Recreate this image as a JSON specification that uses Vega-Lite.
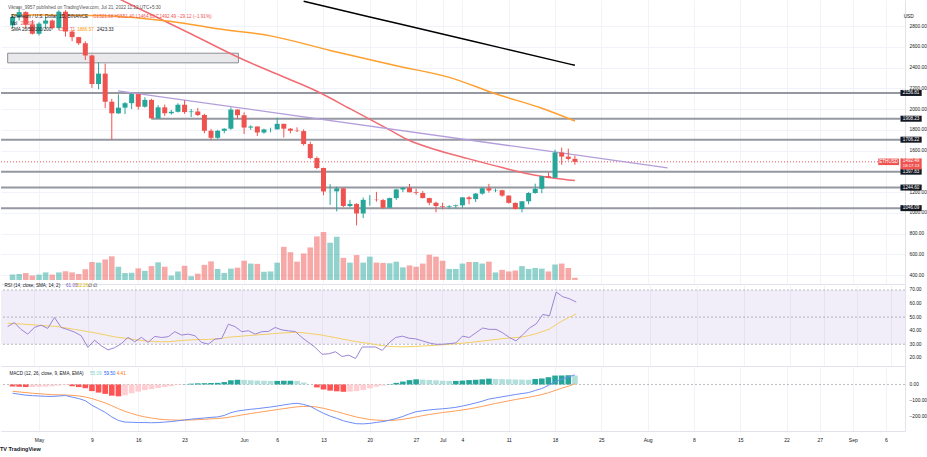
{
"$schema": "https://vega.github.io/schema/vega-lite/v6.json",
"padding": 0,
"background": "#ffffff",
"spacing": 0,
"bounds": "flush",
"config": {"font": "Liberation Sans", "view": {"stroke": null},
"axis": {"labelOverlap": false, "tickCount": 60},
"axisX": {"labelOverlap": false, "tickCount": 60},
"axisY": {"labelOverlap": false, "tickCount": 60}},
"title": {"text": "TV TradingView", "orient": "bottom", "anchor": "start", "fontSize": 5.5, "fontWeight": "bold", "color": "#131722", "offset": 5},
"datasets": {
"ohlc": [
{"date":"2022-04-27","open":2808,"high":2916,"low":2784,"close":2889,"volume":17,"rsi":43,"rsiSma":45.5,"macd":-54,"signal":-42,"hist":-12},
{"date":"2022-04-28","open":2889,"high":2984,"low":2855,"close":2936,"volume":19,"rsi":46,"rsiSma":45.2,"macd":-60,"signal":-46,"hist":-14},
{"date":"2022-04-29","open":2936,"high":2944,"low":2775,"close":2816,"volume":22,"rsi":41,"rsiSma":45,"macd":-66,"signal":-50,"hist":-16},
{"date":"2022-04-30","open":2816,"high":2860,"low":2720,"close":2727,"volume":14,"rsi":37.5,"rsiSma":44.6,"macd":-69,"signal":-54,"hist":-15},
{"date":"2022-05-01","open":2727,"high":2840,"low":2711,"close":2825,"volume":17,"rsi":42.4,"rsiSma":44.3,"macd":-71,"signal":-57,"hist":-14},
{"date":"2022-05-02","open":2825,"high":2892,"low":2775,"close":2855,"volume":24,"rsi":44.1,"rsiSma":43.9,"macd":-73,"signal":-60,"hist":-13},
{"date":"2022-05-03","open":2855,"high":2865,"low":2768,"close":2782,"volume":17,"rsi":41.7,"rsiSma":43.5,"macd":-74,"signal":-63,"hist":-11},
{"date":"2022-05-04","open":2782,"high":2955,"low":2765,"close":2940,"volume":24,"rsi":49.8,"rsiSma":43.3,"macd":-71,"signal":-64,"hist":-7},
{"date":"2022-05-05","open":2940,"high":2955,"low":2700,"close":2748,"volume":28,"rsi":42.4,"rsiSma":42.6,"macd":-68,"signal":-65,"hist":-3},
{"date":"2022-05-06","open":2748,"high":2763,"low":2655,"close":2695,"volume":24,"rsi":40.8,"rsiSma":41.8,"macd":-78,"signal":-67,"hist":-11},
{"date":"2022-05-07","open":2695,"high":2698,"low":2620,"close":2636,"volume":19,"rsi":39,"rsiSma":41,"macd":-87,"signal":-71,"hist":-16},
{"date":"2022-05-08","open":2636,"high":2655,"low":2475,"close":2518,"volume":34,"rsi":36.3,"rsiSma":40.2,"macd":-100,"signal":-77,"hist":-23},
{"date":"2022-05-09","open":2518,"high":2527,"low":2206,"close":2243,"volume":57,"rsi":27.7,"rsiSma":39.3,"macd":-128,"signal":-87,"hist":-41},
{"date":"2022-05-10","open":2243,"high":2453,"low":2192,"close":2343,"volume":55,"rsi":33,"rsiSma":38.5,"macd":-150,"signal":-100,"hist":-50},
{"date":"2022-05-11","open":2343,"high":2439,"low":2010,"close":2072,"volume":65,"rsi":28.9,"rsiSma":37.5,"macd":-172,"signal":-114,"hist":-58},
{"date":"2022-05-12","open":2072,"high":2100,"low":1704,"close":1960,"volume":75,"rsi":25.9,"rsiSma":36.5,"macd":-200,"signal":-131,"hist":-69},
{"date":"2022-05-13","open":1960,"high":2143,"low":1955,"close":2015,"volume":42,"rsi":27.5,"rsiSma":35.5,"macd":-222,"signal":-149,"hist":-73},
{"date":"2022-05-14","open":2015,"high":2068,"low":1953,"close":2058,"volume":22,"rsi":30.5,"rsiSma":34.8,"macd":-232,"signal":-166,"hist":-66},
{"date":"2022-05-15","open":2058,"high":2151,"low":2002,"close":2146,"volume":23,"rsi":35.1,"rsiSma":34.2,"macd":-233,"signal":-179,"hist":-54},
{"date":"2022-05-16","open":2146,"high":2146,"low":1996,"close":2024,"volume":37,"rsi":31.9,"rsiSma":33.5,"macd":-235,"signal":-191,"hist":-44},
{"date":"2022-05-17","open":2024,"high":2114,"low":2015,"close":2090,"volume":29,"rsi":35.1,"rsiSma":32.8,"macd":-235,"signal":-200,"hist":-35},
{"date":"2022-05-18","open":2090,"high":2100,"low":1908,"close":1912,"volume":44,"rsi":31.4,"rsiSma":32.3,"macd":-236,"signal":-207,"hist":-29},
{"date":"2022-05-19","open":1912,"high":2040,"low":1911,"close":2018,"volume":56,"rsi":35.8,"rsiSma":32,"macd":-235,"signal":-213,"hist":-22},
{"date":"2022-05-20","open":2018,"high":2045,"low":1935,"close":1961,"volume":42,"rsi":35,"rsiSma":31.9,"macd":-232,"signal":-217,"hist":-15},
{"date":"2022-05-21","open":1961,"high":1993,"low":1948,"close":1975,"volume":14,"rsi":35.6,"rsiSma":31.9,"macd":-229,"signal":-219,"hist":-10},
{"date":"2022-05-22","open":1975,"high":2057,"low":1968,"close":2043,"volume":27,"rsi":39.3,"rsiSma":32.3,"macd":-224,"signal":-220,"hist":-4},
{"date":"2022-05-23","open":2043,"high":2087,"low":1955,"close":1972,"volume":45,"rsi":36.8,"rsiSma":32.8,"macd":-219,"signal":-220,"hist":1},
{"date":"2022-05-24","open":1972,"high":2002,"low":1925,"close":1978,"volume":12,"rsi":37.5,"rsiSma":33.1,"macd":-214,"signal":-219,"hist":5},
{"date":"2022-05-25","open":1978,"high":2012,"low":1934,"close":1944,"volume":20,"rsi":36.3,"rsiSma":33.4,"macd":-210,"signal":-217,"hist":7},
{"date":"2022-05-26","open":1944,"high":1956,"low":1768,"close":1792,"volume":48,"rsi":31.4,"rsiSma":33.5,"macd":-207,"signal":-215,"hist":8},
{"date":"2022-05-27","open":1792,"high":1810,"low":1702,"close":1724,"volume":59,"rsi":30.1,"rsiSma":33.6,"macd":-203,"signal":-212,"hist":9},
{"date":"2022-05-28","open":1724,"high":1801,"low":1715,"close":1792,"volume":35,"rsi":33.8,"rsiSma":34,"macd":-200,"signal":-210,"hist":10},
{"date":"2022-05-29","open":1792,"high":1816,"low":1768,"close":1812,"volume":22,"rsi":34.3,"rsiSma":34.3,"macd":-191,"signal":-206,"hist":15},
{"date":"2022-05-30","open":1812,"high":2017,"low":1801,"close":1996,"volume":36,"rsi":44.8,"rsiSma":35.2,"macd":-174,"signal":-200,"hist":26},
{"date":"2022-05-31","open":1996,"high":2000,"low":1906,"close":1942,"volume":39,"rsi":43,"rsiSma":35.6,"macd":-164,"signal":-193,"hist":29},
{"date":"2022-06-01","open":1942,"high":1969,"low":1761,"close":1823,"volume":61,"rsi":39.3,"rsiSma":36,"macd":-158,"signal":-186,"hist":28},
{"date":"2022-06-02","open":1823,"high":1845,"low":1801,"close":1833,"volume":52,"rsi":40,"rsiSma":36.4,"macd":-153,"signal":-179,"hist":26},
{"date":"2022-06-03","open":1833,"high":1834,"low":1742,"close":1775,"volume":51,"rsi":37.5,"rsiSma":36.8,"macd":-149,"signal":-173,"hist":24},
{"date":"2022-06-04","open":1775,"high":1812,"low":1764,"close":1805,"volume":26,"rsi":39.3,"rsiSma":37.2,"macd":-144,"signal":-167,"hist":23},
{"date":"2022-06-05","open":1805,"high":1821,"low":1777,"close":1806,"volume":27,"rsi":39.5,"rsiSma":37.5,"macd":-139,"signal":-161,"hist":22},
{"date":"2022-06-06","open":1806,"high":1917,"low":1804,"close":1859,"volume":55,"rsi":42.4,"rsiSma":38,"macd":-133,"signal":-155,"hist":22},
{"date":"2022-06-07","open":1859,"high":1860,"low":1728,"close":1812,"volume":105,"rsi":40.6,"rsiSma":38.3,"macd":-126,"signal":-149,"hist":23},
{"date":"2022-06-08","open":1812,"high":1818,"low":1768,"close":1793,"volume":88,"rsi":39.9,"rsiSma":38.6,"macd":-120,"signal":-143,"hist":23},
{"date":"2022-06-09","open":1793,"high":1825,"low":1780,"close":1789,"volume":58,"rsi":39.4,"rsiSma":38.8,"macd":-116,"signal":-138,"hist":22},
{"date":"2022-06-10","open":1789,"high":1806,"low":1650,"close":1664,"volume":84,"rsi":35,"rsiSma":38.6,"macd":-123,"signal":-135,"hist":12},
{"date":"2022-06-11","open":1664,"high":1686,"low":1517,"close":1529,"volume":103,"rsi":31.3,"rsiSma":38,"macd":-135,"signal":-135,"hist":0},
{"date":"2022-06-12","open":1529,"high":1544,"low":1422,"close":1433,"volume":138,"rsi":27.6,"rsiSma":37.4,"macd":-157,"signal":-139,"hist":-18},
{"date":"2022-06-13","open":1433,"high":1437,"low":1170,"close":1207,"volume":152,"rsi":22.7,"rsiSma":36.8,"macd":-178,"signal":-147,"hist":-31},
{"date":"2022-06-14","open":1207,"high":1277,"low":1077,"close":1208,"volume":118,"rsi":23,"rsiSma":35.8,"macd":-195,"signal":-157,"hist":-38},
{"date":"2022-06-15","open":1208,"high":1253,"low":1015,"close":1237,"volume":137,"rsi":24.5,"rsiSma":34.9,"macd":-209,"signal":-167,"hist":-42},
{"date":"2022-06-16","open":1237,"high":1239,"low":1056,"close":1067,"volume":70,"rsi":21,"rsiSma":33.9,"macd":-224,"signal":-179,"hist":-45},
{"date":"2022-06-17","open":1067,"high":1126,"low":1055,"close":1087,"volume":55,"rsi":22,"rsiSma":33,"macd":-234,"signal":-190,"hist":-44},
{"date":"2022-06-18","open":1087,"high":1094,"low":880,"close":995,"volume":79,"rsi":19.5,"rsiSma":32,"macd":-242,"signal":-201,"hist":-41},
{"date":"2022-06-19","open":995,"high":1148,"low":950,"close":1126,"volume":55,"rsi":28,"rsiSma":31.3,"macd":-243,"signal":-209,"hist":-34},
{"date":"2022-06-20","open":1126,"high":1172,"low":1070,"close":1127,"volume":74,"rsi":28,"rsiSma":30.6,"macd":-240,"signal":-216,"hist":-24},
{"date":"2022-06-21","open":1127,"high":1203,"low":1108,"close":1124,"volume":55,"rsi":28,"rsiSma":29.8,"macd":-234,"signal":-220,"hist":-14},
{"date":"2022-06-22","open":1124,"high":1135,"low":1040,"close":1050,"volume":54,"rsi":25.5,"rsiSma":29,"macd":-229,"signal":-222,"hist":-7},
{"date":"2022-06-23","open":1050,"high":1147,"low":1047,"close":1143,"volume":53,"rsi":31,"rsiSma":28.5,"macd":-220,"signal":-222,"hist":2},
{"date":"2022-06-24","open":1143,"high":1233,"low":1125,"close":1226,"volume":58,"rsi":35,"rsiSma":28.2,"macd":-210,"signal":-220,"hist":10},
{"date":"2022-06-25","open":1226,"high":1249,"low":1200,"close":1243,"volume":40,"rsi":36,"rsiSma":28.1,"macd":-197,"signal":-215,"hist":18},
{"date":"2022-06-26","open":1243,"high":1279,"low":1198,"close":1199,"volume":46,"rsi":34.5,"rsiSma":28.3,"macd":-181,"signal":-208,"hist":27},
{"date":"2022-06-27","open":1199,"high":1234,"low":1175,"close":1192,"volume":42,"rsi":34,"rsiSma":28.5,"macd":-168,"signal":-200,"hist":32},
{"date":"2022-06-28","open":1192,"high":1212,"low":1140,"close":1143,"volume":52,"rsi":32.5,"rsiSma":28.7,"macd":-162,"signal":-192,"hist":30},
{"date":"2022-06-29","open":1143,"high":1147,"low":1075,"close":1098,"volume":80,"rsi":31,"rsiSma":29,"macd":-157,"signal":-185,"hist":28},
{"date":"2022-06-30","open":1098,"high":1108,"low":1006,"close":1067,"volume":74,"rsi":30,"rsiSma":29.3,"macd":-153,"signal":-179,"hist":26},
{"date":"2022-07-01","open":1067,"high":1098,"low":1035,"close":1060,"volume":61,"rsi":30,"rsiSma":29.6,"macd":-150,"signal":-173,"hist":23},
{"date":"2022-07-02","open":1060,"high":1075,"low":1040,"close":1066,"volume":35,"rsi":30.5,"rsiSma":30,"macd":-146,"signal":-168,"hist":22},
{"date":"2022-07-03","open":1066,"high":1080,"low":1045,"close":1073,"volume":35,"rsi":31,"rsiSma":30.4,"macd":-141,"signal":-163,"hist":22},
{"date":"2022-07-04","open":1073,"high":1152,"low":1048,"close":1150,"volume":52,"rsi":36,"rsiSma":30.8,"macd":-133,"signal":-157,"hist":24},
{"date":"2022-07-05","open":1150,"high":1162,"low":1083,"close":1133,"volume":57,"rsi":35,"rsiSma":31.3,"macd":-124,"signal":-151,"hist":27},
{"date":"2022-07-06","open":1133,"high":1192,"low":1105,"close":1186,"volume":57,"rsi":38.5,"rsiSma":31.8,"macd":-114,"signal":-143,"hist":29},
{"date":"2022-07-07","open":1186,"high":1244,"low":1176,"close":1238,"volume":52,"rsi":42,"rsiSma":32.4,"macd":-103,"signal":-135,"hist":32},
{"date":"2022-07-08","open":1238,"high":1280,"low":1195,"close":1216,"volume":58,"rsi":41,"rsiSma":33,"macd":-90,"signal":-126,"hist":36},
{"date":"2022-07-09","open":1216,"high":1235,"low":1200,"close":1219,"volume":24,"rsi":41,"rsiSma":33.6,"macd":-83,"signal":-117,"hist":34},
{"date":"2022-07-10","open":1219,"high":1223,"low":1155,"close":1167,"volume":32,"rsi":38.5,"rsiSma":34.2,"macd":-76,"signal":-109,"hist":33},
{"date":"2022-07-11","open":1167,"high":1170,"low":1090,"close":1097,"volume":27,"rsi":35,"rsiSma":34.6,"macd":-69,"signal":-101,"hist":32},
{"date":"2022-07-12","open":1097,"high":1100,"low":1033,"close":1038,"volume":30,"rsi":32.5,"rsiSma":35,"macd":-62,"signal":-93,"hist":31},
{"date":"2022-07-13","open":1038,"high":1115,"low":1006,"close":1112,"volume":44,"rsi":37,"rsiSma":35.5,"macd":-56,"signal":-86,"hist":30},
{"date":"2022-07-14","open":1112,"high":1200,"low":1083,"close":1192,"volume":35,"rsi":42,"rsiSma":36.5,"macd":-50,"signal":-79,"hist":29},
{"date":"2022-07-15","open":1192,"high":1282,"low":1185,"close":1233,"volume":38,"rsi":45,"rsiSma":37.8,"macd":-37,"signal":-71,"hist":34},
{"date":"2022-07-16","open":1233,"high":1356,"low":1190,"close":1354,"volume":36,"rsi":52,"rsiSma":39.5,"macd":-25,"signal":-62,"hist":37},
{"date":"2022-07-17","open":1354,"high":1390,"low":1336,"close":1339,"volume":27,"rsi":51,"rsiSma":41.2,"macd":-6,"signal":-51,"hist":45},
{"date":"2022-07-18","open":1339,"high":1610,"low":1337,"close":1582,"volume":49,"rsi":68.5,"rsiSma":44.5,"macd":18,"signal":-37,"hist":55},
{"date":"2022-07-19","open":1582,"high":1630,"low":1465,"close":1543,"volume":52,"rsi":65,"rsiSma":47.5,"macd":32,"signal":-23,"hist":55.5},
{"date":"2022-07-20","open":1543,"high":1620,"low":1505,"close":1521,"volume":38,"rsi":63.5,"rsiSma":50,"macd":46,"signal":-11,"hist":57},
{"date":"2022-07-21","open":1521.68,"high":1551.4,"low":1464.63,"close":1492.49,"volume":7,"rsi":61.09,"rsiSma":52.26,"macd":59.5,"signal":4.41,"hist":55.09}
],
"sma": [
{"date":"2022-05-05","series":"SMA 50","value":3316},
{"date":"2022-05-15","series":"SMA 50","value":3005},
{"date":"2022-05-24","series":"SMA 50","value":2725},
{"date":"2022-06-01","series":"SMA 50","value":2474},
{"date":"2022-06-07","series":"SMA 50","value":2311},
{"date":"2022-06-12","series":"SMA 50","value":2173},
{"date":"2022-06-17","series":"SMA 50","value":2005},
{"date":"2022-06-23","series":"SMA 50","value":1800},
{"date":"2022-06-26","series":"SMA 50","value":1698},
{"date":"2022-06-30","series":"SMA 50","value":1609},
{"date":"2022-07-05","series":"SMA 50","value":1521},
{"date":"2022-07-10","series":"SMA 50","value":1437},
{"date":"2022-07-15","series":"SMA 50","value":1363},
{"date":"2022-07-18","series":"SMA 50","value":1335},
{"date":"2022-07-21","series":"SMA 50","value":1312},
{"date":"2022-04-27","series":"SMA 100","value":2911},
{"date":"2022-05-11","series":"SMA 100","value":2902},
{"date":"2022-05-16","series":"SMA 100","value":2880},
{"date":"2022-05-21","series":"SMA 100","value":2846},
{"date":"2022-05-28","series":"SMA 100","value":2775},
{"date":"2022-06-05","series":"SMA 100","value":2707},
{"date":"2022-06-14","series":"SMA 100","value":2567},
{"date":"2022-06-24","series":"SMA 100","value":2419},
{"date":"2022-07-02","series":"SMA 100","value":2307},
{"date":"2022-07-09","series":"SMA 100","value":2149},
{"date":"2022-07-16","series":"SMA 100","value":2009},
{"date":"2022-07-21","series":"SMA 100","value":1886.57},
{"date":"2022-06-10","series":"SMA 200","value":3041},
{"date":"2022-06-20","series":"SMA 200","value":2890},
{"date":"2022-06-30","series":"SMA 200","value":2740},
{"date":"2022-07-10","series":"SMA 200","value":2589},
{"date":"2022-07-21","series":"SMA 200","value":2423.33}
],
"levels": [{"level":2156.81},{"level":1908.23},{"level":1706.22},{"level":1397.83},{"level":1244.60},{"level":1046.09}],
"rsiLines": [{"lvl":70},{"lvl":50},{"lvl":30}]
},
"vconcat": [
{
"width": 904, "height": 284,
"resolve": {"scale": {"y": "independent"}},
"layer": [
{
"data": {"name": "ohlc"},
"mark": {"type": "bar", "size": 5.6, "opacity": 0.5},
"encoding": {
"x": {"field": "date", "type": "temporal", "scale": {"type":"utc","domain":[{"year":2022,"month":4,"date":26,"hours":0,"minutes":14,"utc":true},{"year":2022,"month":9,"date":8,"hours":3,"minutes":20,"utc":true}]},
"axis": {"values": [{"year":2022,"month":5,"date":1,"utc":true},{"year":2022,"month":5,"date":9,"utc":true},{"year":2022,"month":5,"date":16,"utc":true},{"year":2022,"month":5,"date":23,"utc":true},{"year":2022,"month":6,"date":1,"utc":true},{"year":2022,"month":6,"date":6,"utc":true},{"year":2022,"month":6,"date":13,"utc":true},{"year":2022,"month":6,"date":20,"utc":true},{"year":2022,"month":6,"date":27,"utc":true},{"year":2022,"month":7,"date":1,"utc":true},{"year":2022,"month":7,"date":4,"utc":true},{"year":2022,"month":7,"date":11,"utc":true},{"year":2022,"month":7,"date":18,"utc":true},{"year":2022,"month":7,"date":25,"utc":true},{"year":2022,"month":8,"date":1,"utc":true},{"year":2022,"month":8,"date":8,"utc":true},{"year":2022,"month":8,"date":15,"utc":true},{"year":2022,"month":8,"date":22,"utc":true},{"year":2022,"month":8,"date":27,"utc":true},{"year":2022,"month":9,"date":1,"utc":true},{"year":2022,"month":9,"date":6,"utc":true}], "tickCount": 60, "labels": false, "ticks": false, "domain": true, "domainColor": "#e0e3eb", "grid": true, "gridColor": "#f0f3fa", "title": null}},
"y": {"field": "volume", "type": "quantitative", "scale": {"domain": [-12.7, 886.7], "nice": false, "zero": false}, "axis": null},
"y2": {"datum": 0},
"color": {"condition": {"test": "datum.close >= datum.open", "value": "#26a69a"}, "value": "#ef5350"}
}
},
{
"layer": [
{
"data": {"name": "ohlc"},
"mark": {"type": "rule", "strokeWidth": 1, "opacity": 0},
"encoding": {
"x": {"field": "date", "type": "temporal"},
"y": {"field": "low", "type": "quantitative", "scale": {"domain": [362.9, 3004.7], "nice": false, "zero": false},
"axis": {"orient": "right", "values": [400,600,800,1000,1200,1600,1800,2000,2200,2400,2600,2800], "tickCount": 60, "format": ".2f", "title": null, "grid": true, "gridColor": "#f0f3fa", "ticks": false, "domain": true, "domainColor": "#e0e3eb", "labelFontSize": 4.8, "labelColor": "#131722", "labelPadding": 4, "labelAlign": "left", "labelBaseline": "middle", "labelOverlap": false}},
"y2": {"field": "high"}
}
},
{
"data": {"values": [{}]},
"mark": {"type": "rect", "fill": "#e9e9ec", "stroke": "#8a8d96", "strokeWidth": 1},
"encoding": {
"x": {"datum": {"year":2022,"month":4,"date":26,"hours":6,"minutes":20,"utc":true}, "type": "temporal"},
"x2": {"datum": {"year":2022,"month":5,"date":31,"hours":3,"minutes":20,"utc":true}},
"y": {"datum": 2540, "type": "quantitative"},
"y2": {"datum": 2447}
}
},
{
"data": {"name": "levels"},
"transform": [{"filter": "datum.level != 1908.23"}],
"mark": {"type": "rule", "color": "#9598a1", "strokeWidth": 2},
"encoding": {"y": {"field": "level", "type": "quantitative"}}
},
{
"data": {"values": [{}]},
"mark": {"type": "rule", "color": "#9598a1", "strokeWidth": 2},
"encoding": {
"x": {"datum": {"year":2022,"month":5,"date":17,"hours":23,"minutes":30,"utc":true}, "type": "temporal"},
"x2": {"datum": {"year":2022,"month":9,"date":8,"hours":3,"minutes":20,"utc":true}},
"y": {"datum": 1908.23, "type": "quantitative"}
}
},
{
"data": {"values": [{}]},
"mark": {"type": "rule", "color": "#ef5350", "strokeWidth": 1, "strokeDash": [1, 2]},
"encoding": {"y": {"datum": 1492.49, "type": "quantitative"}}
},
{
"data": {"name": "sma"},
"mark": {"type": "line", "clip": true, "strokeWidth": 1.5, "interpolate": "monotone"},
"encoding": {
"x": {"field": "date", "type": "temporal"},
"y": {"field": "value", "type": "quantitative"},
"color": {"field": "series", "type": "nominal", "scale": {"domain": ["SMA 50", "SMA 100", "SMA 200"], "range": ["#f06c72", "#ff9f2e", "#000000"]}, "legend": null}
}
},
{
"data": {"values": [{}]},
"mark": {"type": "rule", "color": "#b39ddb", "strokeWidth": 1.3},
"encoding": {
"x": {"datum": {"year":2022,"month":5,"date":12,"hours":22,"minutes":40,"utc":true}, "type": "temporal"},
"x2": {"datum": {"year":2022,"month":8,"date":4,"hours":0,"minutes":14,"utc":true}},
"y": {"datum": 2177, "type": "quantitative"},
"y2": {"datum": 1435}
}
},
{
"data": {"name": "ohlc"},
"mark": {"type": "rule", "strokeWidth": 1},
"encoding": {
"x": {"field": "date", "type": "temporal"},
"y": {"field": "low", "type": "quantitative"},
"y2": {"field": "high"},
"color": {"condition": {"test": "datum.close >= datum.open", "value": "#26a69a"}, "value": "#ef5350"}
}
},
{
"data": {"name": "ohlc"},
"mark": {"type": "bar", "size": 5},
"encoding": {
"x": {"field": "date", "type": "temporal"},
"y": {"field": "open", "type": "quantitative"},
"y2": {"field": "close"},
"color": {"condition": {"test": "datum.close >= datum.open", "value": "#26a69a"}, "value": "#ef5350"}
}
},
{
"data": {"name": "levels"},
"mark": {"type": "bar", "height": 6, "color": "#131722"},
"encoding": {
"x": {"datum": {"year":2022,"month":9,"date":8,"hours":5,"minutes":0,"utc":true}, "type": "temporal"},
"x2": {"datum": {"year":2022,"month":9,"date":11,"hours":10,"minutes":0,"utc":true}},
"y": {"field": "level", "type": "quantitative"}
}
},
{
"data": {"name": "levels"},
"mark": {"type": "text", "color": "#ffffff", "fontSize": 4.6, "align": "center", "baseline": "middle"},
"encoding": {
"x": {"datum": {"year":2022,"month":9,"date":9,"hours":19,"minutes":40,"utc":true}, "type": "temporal"},
"y": {"field": "level", "type": "quantitative"},
"text": {"field": "level", "type": "quantitative", "format": ".2f"}
}
},
{
"data": {"values": [{}]},
"mark": {"type": "bar", "height": 11, "color": "#ef5350"},
"encoding": {
"x": {"datum": {"year":2022,"month":9,"date":8,"hours":5,"minutes":0,"utc":true}, "type": "temporal"},
"x2": {"datum": {"year":2022,"month":9,"date":11,"hours":10,"minutes":0,"utc":true}},
"y": {"datum": 1473, "type": "quantitative"}
}
},
{
"data": {"values": [{}]},
"mark": {"type": "bar", "height": 6.5, "color": "#ef5350"},
"encoding": {
"x": {"datum": {"year":2022,"month":9,"date":4,"hours":20,"minutes":26,"utc":true}, "type": "temporal"},
"x2": {"datum": {"year":2022,"month":9,"date":7,"hours":23,"minutes":44,"utc":true}},
"y": {"datum": 1492.49, "type": "quantitative"}
}
},
{
"data": {"values": [{}]},
"mark": {"type": "text", "text": "1492.49", "color": "#ffffff", "fontSize": 4.6, "align": "center", "baseline": "middle"},
"encoding": {"x": {"datum": {"year":2022,"month":9,"date":9,"hours":19,"minutes":40,"utc":true}, "type": "temporal"}, "y": {"datum": 1499, "type": "quantitative"}}
},
{
"data": {"values": [{}]},
"mark": {"type": "text", "text": "18:17:13", "color": "#ffffff", "fontSize": 4.3, "align": "center", "baseline": "middle"},
"encoding": {"x": {"datum": {"year":2022,"month":9,"date":9,"hours":19,"minutes":40,"utc":true}, "type": "temporal"}, "y": {"datum": 1449, "type": "quantitative"}}
},
{
"data": {"values": [{}]},
"mark": {"type": "text", "text": "ETHUSD", "color": "#ffffff", "fontSize": 4.6, "align": "center", "baseline": "middle"},
"encoding": {"x": {"datum": {"year":2022,"month":9,"date":6,"hours":10,"minutes":5,"utc":true}, "type": "temporal"}, "y": {"datum": 1492.49, "type": "quantitative"}}
},
{
"data": {"values": [{}]},
"mark": {"type": "text", "text": "USD", "color": "#131722", "fontSize": 4.8, "align": "left", "baseline": "middle"},
"encoding": {"x": {"datum": {"year":2022,"month":9,"date":8,"hours":16,"minutes":33,"utc":true}, "type": "temporal"}, "y": {"datum": 2893, "type": "quantitative"}}
},
{
"data": {"values": [{}]},
"mark": {"type": "text", "text": "Vikram_9957 published on TradingView.com, Jul 21, 2022 11:12 UTC+5:30", "color": "#555555", "fontSize": 4.6, "align": "left", "baseline": "middle"},
"encoding": {"x": {"datum": {"year":2022,"month":4,"date":26,"hours":7,"minutes":26,"utc":true}, "type": "temporal"}, "y": {"datum": 2972, "type": "quantitative"}}
},
{
"data": {"values": [{}]},
"mark": {"type": "text", "text": "Ethereum / U.S. Dollar, 1D, BINANCE", "color": "#131722", "fontSize": 4.6, "align": "left", "baseline": "middle"},
"encoding": {"x": {"datum": {"year":2022,"month":4,"date":26,"hours":18,"minutes":10,"utc":true}, "type": "temporal"}, "y": {"datum": 2886, "type": "quantitative"}}
},
{
"data": {"values": [{}]},
"mark": {"type": "text", "text": "O1521.68 H1551.40 L1464.63 C1492.49 −29.12 (−1.91%)", "color": "#ef5350", "fontSize": 4.6, "align": "left", "baseline": "middle"},
"encoding": {"x": {"datum": {"year":2022,"month":5,"date":9,"hours":3,"minutes":56,"utc":true}, "type": "temporal"}, "y": {"datum": 2886, "type": "quantitative"}}
},
{
"data": {"values": [{}]},
"mark": {"type": "text", "text": "Vol", "color": "#131722", "fontSize": 4.6, "align": "left", "baseline": "middle"},
"encoding": {"x": {"datum": {"year":2022,"month":4,"date":26,"hours":18,"minutes":10,"utc":true}, "type": "temporal"}, "y": {"datum": 2825, "type": "quantitative"}}
},
{
"data": {"values": [{}]},
"mark": {"type": "text", "text": "22.39K", "color": "#ef5350", "fontSize": 4.6, "align": "left", "baseline": "middle"},
"encoding": {"x": {"datum": {"year":2022,"month":4,"date":28,"hours":6,"minutes":3,"utc":true}, "type": "temporal"}, "y": {"datum": 2825, "type": "quantitative"}}
},
{
"data": {"values": [{}]},
"mark": {"type": "text", "text": "SMA 20/50/100/200", "color": "#131722", "fontSize": 4.6, "align": "left", "baseline": "middle"},
"encoding": {"x": {"datum": {"year":2022,"month":4,"date":26,"hours":18,"minutes":10,"utc":true}, "type": "temporal"}, "y": {"datum": 2763, "type": "quantitative"}}
},
{
"data": {"values": [{}]},
"mark": {"type": "text", "text": "1312.71", "color": "#ef5350", "fontSize": 4.6, "align": "left", "baseline": "middle"},
"encoding": {"x": {"datum": {"year":2022,"month":5,"date":3,"hours":22,"minutes":22,"utc":true}, "type": "temporal"}, "y": {"datum": 2763, "type": "quantitative"}}
},
{
"data": {"values": [{}]},
"mark": {"type": "text", "text": "1886.57", "color": "#ff9800", "fontSize": 4.6, "align": "left", "baseline": "middle"},
"encoding": {"x": {"datum": {"year":2022,"month":5,"date":6,"hours":18,"minutes":31,"utc":true}, "type": "temporal"}, "y": {"datum": 2763, "type": "quantitative"}}
},
{
"data": {"values": [{}]},
"mark": {"type": "text", "text": "2423.33", "color": "#131722", "fontSize": 4.6, "align": "left", "baseline": "middle"},
"encoding": {"x": {"datum": {"year":2022,"month":5,"date":9,"hours":18,"minutes":17,"utc":true}, "type": "temporal"}, "y": {"datum": 2763, "type": "quantitative"}}
}
]
}
]
},
{
"width": 904, "height": 82,
"layer": [
{
"data": {"name": "ohlc"},
"mark": {"type": "line", "color": "#9b85d6", "strokeWidth": 1, "opacity": 0},
"encoding": {
"x": {"field": "date", "type": "temporal", "scale": {"type":"utc","domain":[{"year":2022,"month":4,"date":26,"hours":0,"minutes":14,"utc":true},{"year":2022,"month":9,"date":8,"hours":3,"minutes":20,"utc":true}]},
"axis": {"values": [{"year":2022,"month":5,"date":1,"utc":true},{"year":2022,"month":5,"date":9,"utc":true},{"year":2022,"month":5,"date":16,"utc":true},{"year":2022,"month":5,"date":23,"utc":true},{"year":2022,"month":6,"date":1,"utc":true},{"year":2022,"month":6,"date":6,"utc":true},{"year":2022,"month":6,"date":13,"utc":true},{"year":2022,"month":6,"date":20,"utc":true},{"year":2022,"month":6,"date":27,"utc":true},{"year":2022,"month":7,"date":1,"utc":true},{"year":2022,"month":7,"date":4,"utc":true},{"year":2022,"month":7,"date":11,"utc":true},{"year":2022,"month":7,"date":18,"utc":true},{"year":2022,"month":7,"date":25,"utc":true},{"year":2022,"month":8,"date":1,"utc":true},{"year":2022,"month":8,"date":8,"utc":true},{"year":2022,"month":8,"date":15,"utc":true},{"year":2022,"month":8,"date":22,"utc":true},{"year":2022,"month":8,"date":27,"utc":true},{"year":2022,"month":9,"date":1,"utc":true},{"year":2022,"month":9,"date":6,"utc":true}], "tickCount": 60, "labels": false, "ticks": false, "domain": true, "domainColor": "#e0e3eb", "grid": true, "gridColor": "#f0f3fa", "title": null}},
"y": {"field": "rsi", "type": "quantitative", "scale": {"domain": [14.01, 74.42], "nice": false, "zero": false},
"axis": {"orient": "right", "values": [20,30,40,50,60,70], "tickCount": 60, "format": ".2f", "title": null, "grid": false, "ticks": false, "domain": true, "domainColor": "#e0e3eb", "labelFontSize": 4.8, "labelColor": "#131722", "labelPadding": 4, "labelAlign": "left", "labelBaseline": "middle", "labelOverlap": false}}
}
},
{
"data": {"values": [{}]},
"mark": {"type": "rect", "fill": "#7e57c2", "opacity": 0.1},
"encoding": {
"x": {"datum": {"year":2022,"month":4,"date":26,"hours":0,"minutes":14,"utc":true}, "type": "temporal"},
"x2": {"datum": {"year":2022,"month":9,"date":8,"hours":3,"minutes":20,"utc":true}},
"y": {"datum": 30, "type": "quantitative"},
"y2": {"datum": 70}
}
},
{
"data": {"name": "rsiLines"},
"mark": {"type": "rule", "color": "#787b86", "strokeWidth": 1, "strokeDash": [2, 2], "opacity": 0.5},
"encoding": {"y": {"field": "lvl", "type": "quantitative"}}
},
{
"data": {"name": "ohlc"},
"mark": {"type": "line", "color": "#f3cf63", "strokeWidth": 1},
"encoding": {
"x": {"field": "date", "type": "temporal"},
"y": {"field": "rsiSma", "type": "quantitative"}
}
},
{
"data": {"name": "ohlc"},
"mark": {"type": "line", "color": "#9b85d6", "strokeWidth": 1},
"encoding": {
"x": {"field": "date", "type": "temporal"},
"y": {"field": "rsi", "type": "quantitative"}
}
},
{
"data": {"values": [{}]},
"mark": {"type": "text", "text": "RSI (14, close, SMA, 14, 2)", "color": "#131722", "fontSize": 4.6, "align": "left", "baseline": "middle"},
"encoding": {"x": {"datum": {"year":2022,"month":4,"date":26,"hours":12,"minutes":50,"utc":true}, "type": "temporal"}, "y": {"datum": 72.9, "type": "quantitative"}}
},
{
"data": {"values": [{}]},
"mark": {"type": "text", "text": "61.09", "color": "#7e57c2", "fontSize": 4.6, "align": "left", "baseline": "middle"},
"encoding": {"x": {"datum": {"year":2022,"month":5,"date":5,"hours":17,"minutes":26,"utc":true}, "type": "temporal"}, "y": {"datum": 72.9, "type": "quantitative"}}
},
{
"data": {"values": [{}]},
"mark": {"type": "text", "text": "52.26", "color": "#e6b800", "fontSize": 4.6, "align": "left", "baseline": "middle"},
"encoding": {"x": {"datum": {"year":2022,"month":5,"date":7,"hours":8,"minutes":50,"utc":true}, "type": "temporal"}, "y": {"datum": 72.9, "type": "quantitative"}}
},
{
"data": {"values": [{}]},
"mark": {"type": "text", "text": "∅ ∅", "color": "#131722", "fontSize": 4.6, "align": "left", "baseline": "middle"},
"encoding": {"x": {"datum": {"year":2022,"month":5,"date":9,"hours":0,"minutes":20,"utc":true}, "type": "temporal"}, "y": {"datum": 72.9, "type": "quantitative"}}
}
]
},
{
"width": 904, "height": 65,
"layer": [
{
"data": {"name": "ohlc"},
"mark": {"type": "line", "color": "#6d8df7", "strokeWidth": 1, "opacity": 0},
"encoding": {
"x": {"field": "date", "type": "temporal", "scale": {"type":"utc","domain":[{"year":2022,"month":4,"date":26,"hours":0,"minutes":14,"utc":true},{"year":2022,"month":9,"date":8,"hours":3,"minutes":20,"utc":true}]},
"axis": {"values": [{"year":2022,"month":5,"date":1,"utc":true},{"year":2022,"month":5,"date":9,"utc":true},{"year":2022,"month":5,"date":16,"utc":true},{"year":2022,"month":5,"date":23,"utc":true},{"year":2022,"month":6,"date":1,"utc":true},{"year":2022,"month":6,"date":6,"utc":true},{"year":2022,"month":6,"date":13,"utc":true},{"year":2022,"month":6,"date":20,"utc":true},{"year":2022,"month":6,"date":27,"utc":true},{"year":2022,"month":7,"date":1,"utc":true},{"year":2022,"month":7,"date":4,"utc":true},{"year":2022,"month":7,"date":11,"utc":true},{"year":2022,"month":7,"date":18,"utc":true},{"year":2022,"month":7,"date":25,"utc":true},{"year":2022,"month":8,"date":1,"utc":true},{"year":2022,"month":8,"date":8,"utc":true},{"year":2022,"month":8,"date":15,"utc":true},{"year":2022,"month":8,"date":22,"utc":true},{"year":2022,"month":8,"date":27,"utc":true},{"year":2022,"month":9,"date":1,"utc":true},{"year":2022,"month":9,"date":6,"utc":true}], "tickCount": 60, "labelExpr": "utcdate(datum.value) == 1 ? utcFormat(datum.value, '%b') : utcFormat(datum.value, '%-d')", "ticks": false, "domain": true, "domainColor": "#e0e3eb", "grid": true, "gridColor": "#f0f3fa", "title": null, "labelFontSize": 5, "labelColor": "#131722", "labelPadding": 6, "labelOverlap": false, "labelFlush": false}},
"y": {"field": "macd", "type": "quantitative", "scale": {"domain": [-287, 114], "nice": false, "zero": false},
"axis": {"orient": "right", "values": [-200,-100,0], "tickCount": 60, "format": ".2f", "title": null, "grid": false, "ticks": false, "domain": true, "domainColor": "#e0e3eb", "labelFontSize": 4.8, "labelColor": "#131722", "labelPadding": 4, "labelAlign": "left", "labelBaseline": "middle", "labelOverlap": false}}
}
},
{
"data": {"values": [{}]},
"mark": {"type": "rule", "color": "#787b86", "strokeWidth": 1, "strokeDash": [2, 2], "opacity": 0.5},
"encoding": {"y": {"datum": 0, "type": "quantitative"}}
},
{
"data": {"name": "ohlc"},
"transform": [{"window": [{"op": "lag", "field": "hist", "as": "prevHist"}], "sort": [{"field": "date"}]}],
"mark": {"type": "bar", "size": 5.6},
"encoding": {
"x": {"field": "date", "type": "temporal"},
"y": {"field": "hist", "type": "quantitative"},
"y2": {"datum": 0},
"color": {"condition": [{"test": "datum.hist >= 0 && datum.hist >= datum.prevHist", "value": "#26a69a"}, {"test": "datum.hist >= 0", "value": "#b2dfdb"}, {"test": "datum.hist < datum.prevHist", "value": "#ff5252"}], "value": "#ffcdd2"}
}
},
{
"data": {"name": "ohlc"},
"mark": {"type": "line", "color": "#ff9f5a", "strokeWidth": 1},
"encoding": {
"x": {"field": "date", "type": "temporal"},
"y": {"field": "signal", "type": "quantitative"}
}
},
{
"data": {"name": "ohlc"},
"mark": {"type": "line", "color": "#6d8df7", "strokeWidth": 1},
"encoding": {
"x": {"field": "date", "type": "temporal"},
"y": {"field": "macd", "type": "quantitative"}
}
},
{
"data": {"values": [{}]},
"mark": {"type": "text", "text": "MACD (12, 26, close, 9, EMA, EMA)", "color": "#131722", "fontSize": 4.6, "align": "left", "baseline": "middle"},
"encoding": {"x": {"datum": {"year":2022,"month":4,"date":26,"hours":12,"minutes":50,"utc":true}, "type": "temporal"}, "y": {"datum": 61.7, "type": "quantitative"}}
},
{
"data": {"values": [{}]},
"mark": {"type": "text", "text": "55.09", "color": "#7fcfc5", "fontSize": 4.6, "align": "left", "baseline": "middle"},
"encoding": {"x": {"datum": {"year":2022,"month":5,"date":8,"hours":17,"minutes":9,"utc":true}, "type": "temporal"}, "y": {"datum": 61.7, "type": "quantitative"}}
},
{
"data": {"values": [{}]},
"mark": {"type": "text", "text": "59.50", "color": "#2962ff", "fontSize": 4.6, "align": "left", "baseline": "middle"},
"encoding": {"x": {"datum": {"year":2022,"month":5,"date":10,"hours":19,"minutes":23,"utc":true}, "type": "temporal"}, "y": {"datum": 61.7, "type": "quantitative"}}
},
{
"data": {"values": [{}]},
"mark": {"type": "text", "text": "4.41", "color": "#ff6d00", "fontSize": 4.6, "align": "left", "baseline": "middle"},
"encoding": {"x": {"datum": {"year":2022,"month":5,"date":12,"hours":18,"minutes":1,"utc":true}, "type": "temporal"}, "y": {"datum": 61.7, "type": "quantitative"}}
}
]
}
]
}
